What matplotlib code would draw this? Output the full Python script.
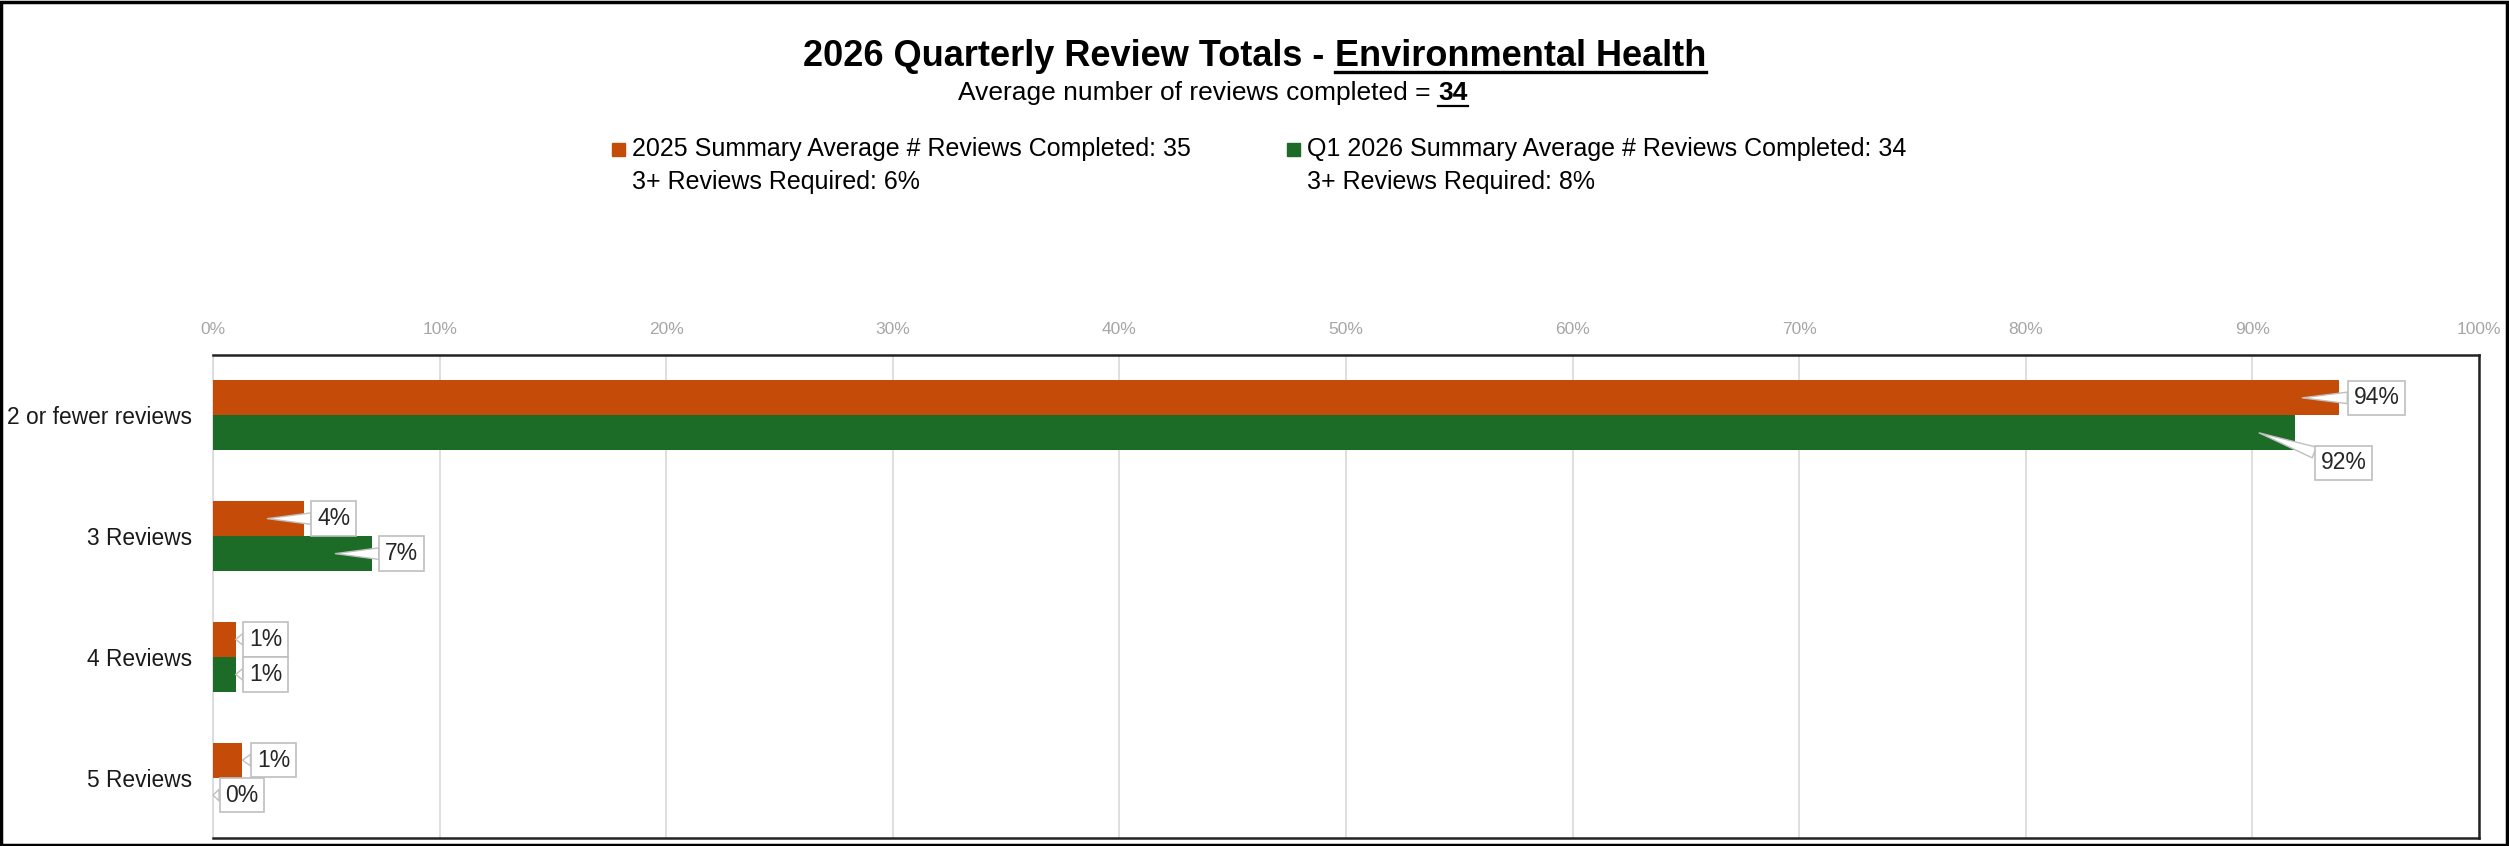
import numpy as np
import matplotlib
matplotlib.use('Agg')
import matplotlib.pyplot as plt
from matplotlib.patches import Rectangle
from matplotlib.lines import Line2D
from matplotlib.transforms import offset_copy

plt.rcParams['font.family'] = ['Liberation Sans', 'DejaVu Sans']

# data
categories = ['2 or fewer reviews', '3 Reviews', '4 Reviews', '5 Reviews']
vals_2025 = [93.8, 4.0, 1.0, 1.3]
vals_2026 = [91.9, 7.0, 1.0, 0.0]
labels_2025 = ['94%', '4%', '1%', '1%']
labels_2026 = ['92%', '7%', '1%', '0%']
xtick_vals = [0, 10, 20, 30, 40, 50, 60, 70, 80, 90, 100]
xtick_labels = ['0%', '10%', '20%', '30%', '40%', '50%', '60%', '70%', '80%', '90%', '100%']

title_a = '2026 Quarterly Review Totals - '
title_b = 'Environmental Health'
sub_a = 'Average number of reviews completed = '
sub_b = '34'
legend_2025 = ['2025 Summary Average # Reviews Completed: 35', '3+ Reviews Required: 6%']
legend_2026 = ['Q1 2026 Summary Average # Reviews Completed: 34', '3+ Reviews Required: 8%']

c_orange = '#C54B08'
c_green = '#1C6B27'

W, H = 2509, 846
fig = plt.figure(figsize=(W / 100, H / 100), dpi=100)
ax = fig.add_axes([213 / W, 1 - 838 / H, (2479 - 213) / W, (838 - 355) / H])

y = np.arange(len(categories))
bh = 0.29
ax.barh(y - bh / 2, vals_2025, height=bh, color=c_orange, zorder=3)
ax.barh(y + bh / 2, vals_2026, height=bh, color=c_green, zorder=3)

ax.set_xlim(0, 100)
ax.set_ylim(len(categories) - 0.5, -0.5)
ax.set_yticks(y)
ax.set_yticklabels(categories, fontsize=16.4, color='#1a1a1a')
ax.set_xticks(xtick_vals)
ax.set_xticklabels(xtick_labels, fontsize=12.5, color='#a6a6a6')
ax.xaxis.tick_top()
ax.tick_params(axis='x', length=0, pad=13)
ax.tick_params(axis='y', length=0, pad=15)
ax.grid(axis='x', color='#d9d9d9', lw=1.2, zorder=0)
for s in ['top', 'bottom', 'right']:
    ax.spines[s].set_color('#222222')
    ax.spines[s].set_linewidth(1.8)
ax.spines['left'].set_color('#d9d9d9')
ax.spines['left'].set_linewidth(1.2)

# data labels with callouts
def callout(v, yy, txt, dx, dy):
    tip = v - 1.6 if v > 3 else v
    tr = offset_copy(ax.transData, fig=fig, x=dx, y=dy, units='dots')
    ax.annotate(txt, xy=(tip, yy), xytext=(v, yy), textcoords=tr,
                ha='center', va='center', fontsize=16.5, color='#262626', zorder=5,
                bbox=dict(boxstyle='square,pad=0.25', fc='white', ec='#bfbfbf', lw=1.2),
                arrowprops=dict(arrowstyle='wedge,tail_width=0.5', fc='white', ec='#bfbfbf',
                                lw=1, shrinkA=0, shrinkB=0))

off_2025 = [(38, 0), (30, 0), (30, 0), (31, 0)]
off_2026 = [(48, -30), (30, 0), (30, 0), (29, 0)]
for i in range(len(categories)):
    callout(vals_2025[i], y[i] - bh / 2, labels_2025[i], *off_2025[i])
    callout(vals_2026[i], y[i] + bh / 2, labels_2026[i], *off_2026[i])

# title / subtitle with underlined part
rend = fig.canvas.get_renderer()

def two_part(xc, yb, a, b, size, wa, wb, ulw):
    ta = fig.text(0, yb, a.rstrip(), fontsize=size, fontweight=wa, va='baseline')
    tb = fig.text(0, yb, b, fontsize=size, fontweight=wb, va='baseline')
    wa_px = ta.get_window_extent(rend).width
    wb_px = tb.get_window_extent(rend).width
    gap = size * 1.389 * 0.28
    x0 = xc - (wa_px + gap + wb_px) / 2
    ta.set_x(x0 / W)
    tb.set_x((x0 + wa_px + gap) / W)
    yl = yb - 6 / H
    fig.add_artist(Line2D([(x0 + wa_px + gap) / W, (x0 + wa_px + gap + wb_px) / W], [yl, yl],
                          color='black', lw=ulw))

two_part(W / 2, 1 - 66 / H, title_a, title_b, 26, 'bold', 'bold', 2.4)
two_part(1213, 1 - 100 / H, sub_a, sub_b, 19, 'normal', 'bold', 1.6)

# legend block
def legend_entry(x, color, lines):
    fig.add_artist(Rectangle((x / W, 1 - 156 / H), 13 / W, 13 / H, color=color))
    fig.text((x + 20) / W, 1 - 149 / H, lines[0], fontsize=18, va='center')
    fig.text((x + 20) / W, 1 - 182 / H, lines[1], fontsize=18, va='center')

legend_entry(612, c_orange, legend_2025)
legend_entry(1287, c_green, legend_2026)

# chart border
fig.add_artist(Rectangle((1 / W, 1 / H), (W - 3) / W, (H - 3) / H, fill=False, ec='black', lw=2.5))

fig.savefig('out.png', dpi=100)
